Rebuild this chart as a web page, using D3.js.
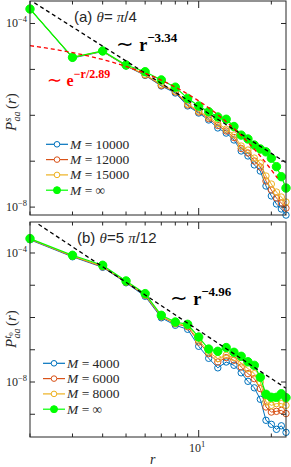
<!DOCTYPE html>
<html>
<head>
<meta charset="utf-8">
<script src="https://cdn.jsdelivr.net/npm/d3@7"></script>
<style>
body { margin: 0; background: #fff; }
text { fill: #262626; }
</style>
</head>
<body>
<svg width="291" height="467"></svg>
<script>
var svg = d3.select('svg');

// distances r (both panels)
var rValues = [2,3,4,5,6,7,8,9,10,11,12,13,14,15,16,17,18,19,20,21,22,23];

// panel (a): theta = pi/4
var aLabels = ['10000', '12000', '15000', '\u221e'];
var aM10000 = [2.07e-4,1.77e-5,2.45e-5,1.19e-5,7.4e-6,4.35e-6,3.06e-6,1.6e-6,1.12e-6,7.9e-7,5.3e-7,4.1e-7,2.9e-7,1.67e-7,1.3e-7,8.3e-8,6.1e-8,2.88e-8,1.75e-8,1.17e-8,9.1e-9,6.7e-9];
var aM12000 = [2.07e-4,1.82e-5,2.48e-5,1.2e-5,7.55e-6,4.46e-6,3.22e-6,1.68e-6,1.18e-6,8.5e-7,6.0e-7,4.55e-7,3.28e-7,1.89e-7,1.51e-7,1.01e-7,7.5e-8,3.7e-8,2.36e-8,1.58e-8,1.23e-8,9.5e-9];
var aM15000 = [2.07e-4,1.82e-5,2.49e-5,1.22e-5,7.74e-6,4.69e-6,3.38e-6,1.76e-6,1.24e-6,9.2e-7,6.6e-7,5.0e-7,3.72e-7,2.14e-7,1.75e-7,1.17e-7,9.1e-8,4.76e-8,3.18e-8,2.13e-8,1.66e-8,1.29e-8];
var aMinf = [2.07e-4,1.83e-5,2.52e-5,1.25e-5,8.9e-6,5.9e-6,4.1e-6,2.34e-6,1.6e-6,1.2e-6,9.2e-7,8.2e-7,5.7e-7,3.7e-7,3.05e-7,2.25e-7,1.85e-7,1.6e-7,1.16e-7,7.6e-8,4.6e-8,2.6e-8];

// panel (b): theta = 5 pi/12
var bLabels = ['4000', '6000', '8000', '\u221e'];
var bM4000 = [2.56e-4,7.62e-5,3.6e-5,1.19e-5,4.54e-6,9.8e-7,5.73e-7,4.31e-7,1.28e-7,5.43e-8,2.75e-8,4.17e-8,3.3e-8,1.93e-8,1.05e-8,6.6e-9,2.91e-9,6.5e-10,4.88e-10,3.41e-10,4.39e-10,2.75e-10];
var bM6000 = [2.66e-4,7.9e-5,3.73e-5,1.23e-5,4.88e-6,1.05e-6,6.38e-7,5.15e-7,1.74e-7,7.6e-8,4.17e-8,5.71e-8,4.71e-8,2.92e-8,1.82e-8,1.27e-8,6.24e-9,1.68e-9,1.17e-9,1.23e-9,1.32e-9,1.05e-9];
var bM8000 = [2.7e-4,8.07e-5,3.87e-5,1.28e-5,5.06e-6,1.09e-6,6.61e-7,5.53e-7,2.0e-7,8.5e-8,5.32e-8,6.73e-8,5.71e-8,3.88e-8,2.61e-8,1.82e-8,1.0e-8,2.4e-9,1.89e-9,2.14e-9,2.14e-9,1.89e-9];
var bMinf = [2.8e-4,8.49e-5,4.16e-5,1.36e-5,5.51e-6,1.17e-6,7.25e-7,6.15e-7,2.48e-7,1.05e-7,8.95e-8,1.17e-7,8.34e-8,6.27e-8,4.23e-8,3.29e-8,1.4e-8,4.16e-9,3.36e-9,3.36e-9,4.31e-9,3.28e-9];

// fits
var aPowAmp = 3.29e-3, aPowExp = -3.34;
var aExpAmp = 6.55e-5, aExpLen = 2.89;
var bPowAmp = 3.62e-2, bPowExp = -4.96;

var colors = ['#0072bd', '#d95319', '#edb120', '#00ff00'];
var axisColor = '#262626';

var left = 30, right = 286;
var x = d3.scaleLog().domain([2, 23]).range([left, right]);
var xTicks = [2,3,4,5,6,7,8,9,10,20];

function drawPanel(p) {
	var y = d3.scaleLog().domain(p.yDomain).range([p.bottom, p.top]);
	var g = svg.append('g');

	// series
	p.series.forEach(function(vals, i) {
		var pts = rValues.map(function(r, j){ return [r, vals[j]]; });
		var line = d3.line()
		.x(function(d){ return x(d[0]); })
		.y(function(d){ return y(d[1]); });
		g.append('path')
		.attr('d', line(pts))
		.attr('fill', 'none')
		.attr('stroke', colors[i])
		.attr('stroke-width', i == 3 ? 1.2 : 1);
		g.selectAll('circle.s' + i)
		.data(pts)
		.enter()
		.append('circle')
		.attr('cx', function(d){ return x(d[0]); })
		.attr('cy', function(d){ return y(d[1]); })
		.attr('r', i == 3 ? 4.2 : 3.2)
		.attr('fill', i == 3 ? colors[3] : 'none')
		.attr('stroke', colors[i])
		.attr('stroke-width', 1);
	});

	// fit lines
	var fineR = d3.range(0, 61).map(function(k){ return 2 * Math.pow(11.5, k / 60); });
	p.fits.forEach(function(f) {
		var line = d3.line()
		.x(function(r){ return x(r); })
		.y(function(r){ return y(f.fn(r)); });
		g.append('path')
		.attr('d', line(fineR.filter(function(r){ return f.fn(r) <= p.yDomain[1] && r <= f.rMax; })))
		.attr('fill', 'none')
		.attr('stroke', f.color)
		.attr('stroke-width', 1.3)
		.attr('stroke-dasharray', '4,3');
	});

	// frame
	g.append('rect')
	.attr('x', left).attr('y', p.top)
	.attr('width', right - left).attr('height', p.bottom - p.top)
	.attr('fill', 'none').attr('stroke', axisColor).attr('stroke-width', 1);

	// x ticks (bottom and top, inward)
	xTicks.forEach(function(t) {
		var len = t == 10 ? 7 : 3.5;
		g.append('line').attr('x1', x(t)).attr('x2', x(t))
		.attr('y1', p.bottom).attr('y2', p.bottom - len)
		.attr('stroke', axisColor).attr('stroke-width', 1);
		g.append('line').attr('x1', x(t)).attr('x2', x(t))
		.attr('y1', p.top).attr('y2', p.top + len)
		.attr('stroke', axisColor).attr('stroke-width', 1);
	});

	// y ticks (each decade, inward both sides)
	p.yTicks.forEach(function(t) {
		g.append('line').attr('x1', left).attr('x2', left + 5)
		.attr('y1', y(t)).attr('y2', y(t))
		.attr('stroke', axisColor).attr('stroke-width', 1);
		g.append('line').attr('x1', right).attr('x2', right - 5)
		.attr('y1', y(t)).attr('y2', y(t))
		.attr('stroke', axisColor).attr('stroke-width', 1);
	});
	p.yLabels.forEach(function(e) {
		var tx = g.append('text')
		.attr('x', 27).attr('y', y(Math.pow(10, e)) + 4)
		.attr('text-anchor', 'end')
		.attr('font-family', 'Liberation Serif')
		.attr('font-size', 12);
		tx.append('tspan').text('10');
		tx.append('tspan').attr('dy', -5).attr('font-size', 8.5).text('\u2212' + Math.abs(e));
	});

	// legend
	p.legendLabels.forEach(function(lab, i) {
		var ly = p.legendY + i * 15.3;
		g.append('line').attr('x1', p.legendX).attr('x2', p.legendX + 22)
		.attr('y1', ly).attr('y2', ly)
		.attr('stroke', colors[i]).attr('stroke-width', 1.2);
		g.append('circle').attr('cx', p.legendX + 11).attr('cy', ly)
		.attr('r', i == 3 ? 3.5 : 2.8)
		.attr('fill', i == 3 ? colors[3] : '#fff')
		.attr('stroke', colors[i]).attr('stroke-width', 1);
		var tx = g.append('text')
		.attr('x', p.legendX + 24).attr('y', ly + 4.5)
		.attr('font-family', 'Liberation Serif')
		.attr('font-size', 13.5);
		tx.append('tspan').attr('font-style', 'italic').text('M');
		tx.append('tspan').text(' = ' + lab);
	});

	// y-axis title
	var yt = svg.append('g')
	.attr('transform', 'translate(' + p.titleX + ',' + p.titleY + ') rotate(-90)')
	.attr('font-family', 'Liberation Serif');
	yt.append('text').attr('x', 0).attr('y', 0).attr('font-size', 15).attr('font-style', 'italic').text('P');
	var sup = yt.append('text').attr('x', 9.5).attr('y', -5).attr('font-size', 10).attr('font-style', 'italic');
	sup.append('tspan').text(p.supText);
	if (p.supSub) sup.append('tspan').attr('dy', 2).attr('font-size', 7).attr('font-style', 'normal').text(p.supSub);
	yt.append('text').attr('x', 9.5).attr('y', 4).attr('font-size', 10).attr('font-style', 'italic').text('aa');
	var rp = yt.append('text').attr('x', 22).attr('y', 0).attr('font-size', 15);
	rp.append('tspan').text('(');
	rp.append('tspan').attr('font-style', 'italic').text('r');
	rp.append('tspan').text(')');
	return y;
}

var ya = drawPanel({
	top: 1, bottom: 215, yDomain: [Math.pow(10, -8.172), Math.pow(10, -3.51)],
	yTicks: [1e-4, 1e-5, 1e-6, 1e-7, 1e-8], yLabels: [-4, -8],
	series: [aM10000, aM12000, aM15000, aMinf],
	fits: [
		{color: '#000', rMax: 23, fn: function(r){ return aPowAmp * Math.pow(r, aPowExp); }},
		{color: '#ff0000', rMax: 21.5, fn: function(r){ return aExpAmp * Math.exp(-r / aExpLen); }}
	],
	legendLabels: aLabels, legendX: 46, legendY: 144.3,
	titleX: 16, titleY: 131, supText: 's', supSub: null
});

var yb = drawPanel({
	top: 222, bottom: 437, yDomain: [Math.pow(10, -9.705), Math.pow(10, -3.039)],
	yTicks: [1e-4, 1e-5, 1e-6, 1e-7, 1e-8, 1e-9], yLabels: [-4, -8],
	series: [bM4000, bM6000, bM8000, bMinf],
	fits: [
		{color: '#000', rMax: 23, fn: function(r){ return bPowAmp * Math.pow(r, bPowExp); }}
	],
	legendLabels: bLabels, legendX: 43, legendY: 363.3,
	titleX: 16, titleY: 348, supText: 't', supSub: '0'
});

// panel annotations
function panelTitle(xp, yp, tag, rest) {
	var t = svg.append('text').attr('x', xp).attr('y', yp).attr('font-size', 15)
	.attr('font-family', 'Liberation Sans');
	t.append('tspan').text(tag + '  ');
	t.append('tspan').attr('font-family', 'Liberation Serif').attr('font-style', 'italic').text('\u03b8');
	t.append('tspan').text(rest[0]);
	t.append('tspan').attr('font-family', 'Liberation Serif').attr('font-style', 'italic').text('\u03c0');
	t.append('tspan').text(rest[1]);
}
panelTitle(74, 22, '(a)', ['= ', '/4']);
panelTitle(77, 243, '(b)', ['=5 ', '/12']);

function powLabel(xp, yp, base, expo, color, size, supSize) {
	var t = svg.append('text').attr('x', xp).attr('y', yp)
	.attr('font-family', 'Liberation Serif').attr('font-size', size)
	.style('fill', color);
	t.append('tspan').attr('font-size', size * 1.15).text('\u223c ');
	t.append('tspan').attr('font-weight', 'bold').text(base);
	t.append('tspan').attr('dy', -size * 0.5).attr('font-size', supSize)
	.attr('font-weight', 'bold').text(expo);
}
powLabel(116, 51, 'r', '\u22123.34', '#000', 18, 13);
powLabel(47, 86, 'e', '\u2212r/2.89', '#ff0000', 16, 12);
powLabel(170, 305, 'r', '\u22124.96', '#000', 18, 13);

// x-axis tick label and title
var xl = svg.append('text').attr('x', 189).attr('y', 452)
.attr('font-family', 'Liberation Serif').attr('font-size', 12);
xl.append('tspan').text('10');
xl.append('tspan').attr('dy', -5).attr('font-size', 8.5).text('1');
svg.append('text').attr('x', 150).attr('y', 464)
.attr('font-family', 'Liberation Serif').attr('font-size', 14)
.attr('font-style', 'italic').text('r');
</script>
</body>
</html>
